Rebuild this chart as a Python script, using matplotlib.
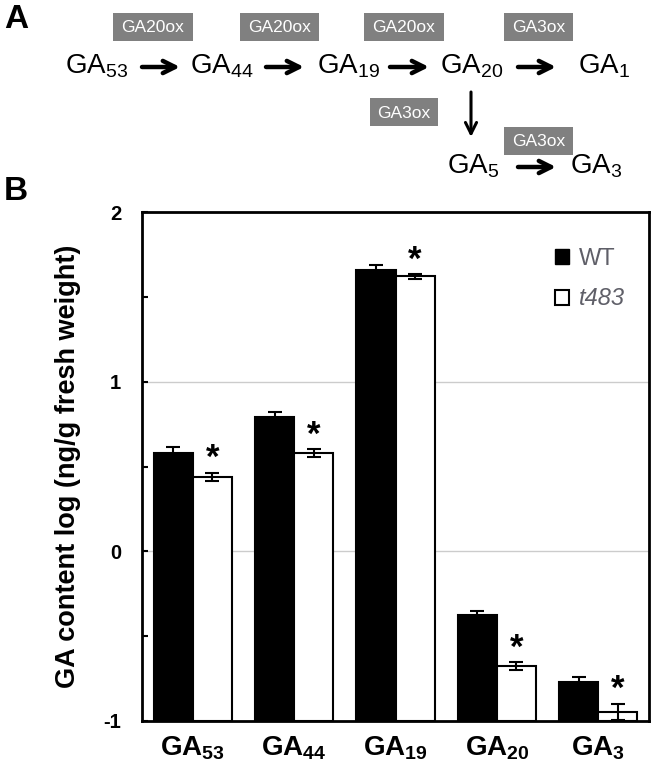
import matplotlib
matplotlib.use("Agg")
import matplotlib.pyplot as plt
from matplotlib.patches import Rectangle, Patch
from matplotlib.ticker import MultipleLocator
import numpy as np

plt.rcParams['font.family'] = ['Liberation Sans', 'DejaVu Sans']
plt.rcParams['mathtext.default'] = 'regular'
plt.rcParams['axes.unicode_minus'] = False

# chart data (log10 GA content, ng/g fresh weight)
genes = ['GA$_{53}$', 'GA$_{44}$', 'GA$_{19}$', 'GA$_{20}$', 'GA$_{3}$']
wt = [0.58, 0.79, 1.66, -0.375, -0.77]
wt_err = [0.035, 0.03, 0.025, 0.024, 0.03]
t483 = [0.44, 0.58, 1.62, -0.675, -0.945]
t483_err = [0.024, 0.024, 0.012, 0.024, 0.047]
signif = [True, True, True, True, True]

# pathway diagram (panel A)
row1 = ['GA$_{53}$', 'GA$_{44}$', 'GA$_{19}$', 'GA$_{20}$', 'GA$_{1}$']
row1_x = [65, 190, 317, 440, 578]
row1_enz = ['GA20ox', 'GA20ox', 'GA20ox', 'GA3ox']
row2 = ['GA$_{5}$', 'GA$_{3}$']
row2_x = [447, 570]

fig = plt.figure(figsize=(6.55, 7.66), dpi=100)

# overlay in pixel coords for the scheme
top = fig.add_axes([0, 0, 1, 1])
top.set_xlim(0, 655)
top.set_ylim(766, 0)
top.axis('off')
top.patch.set_visible(False)

top.text(4, 4, 'A', fontsize=24, fontweight='bold', va='top', ha='left')
top.text(4, 176, 'B', fontsize=24, fontweight='bold', va='top', ha='left')

def enz_box(x0, x1, y0, y1, name):
    top.add_patch(Rectangle((x0, y0), x1 - x0, y1 - y0, facecolor='#808080', edgecolor='none'))
    top.text((x0 + x1) / 2, (y0 + y1) / 2 + 1, name, color='white', fontsize=12.5,
             ha='center', va='center')

def harrow(x0, x1, y):
    top.annotate('', xy=(x1, y), xytext=(x0, y),
                 arrowprops=dict(arrowstyle='->', lw=3.2, color='black',
                                 mutation_scale=22, shrinkA=0, shrinkB=0))

for lab, x in zip(row1, row1_x):
    top.text(x, 74, lab, fontsize=20, ha='left', va='baseline')
box_x = [(113, 193), (240, 319), (364, 444), (504, 573)]
arr_x = [(142, 180), (266, 304), (390, 429), (518, 556)]
for (bx0, bx1), (ax0, ax1), name in zip(box_x, arr_x, row1_enz):
    enz_box(bx0, bx1, 13, 41, name)
    harrow(ax0, ax1, 67)

# branch GA20 -> GA5 -> GA3
top.annotate('', xy=(471, 137), xytext=(471, 92),
             arrowprops=dict(arrowstyle='->', lw=2.2, color='black',
                             mutation_scale=20, shrinkA=0, shrinkB=0))
enz_box(370, 438, 98, 126, 'GA3ox')
enz_box(504, 573, 127, 155, 'GA3ox')
for lab, x in zip(row2, row2_x):
    top.text(x, 174, lab, fontsize=20, ha='left', va='baseline')
harrow(518, 556, 167)

# bar chart (panel B)
ax = fig.add_axes([142 / 655, 45 / 766, 507 / 655, 509 / 766])
x = np.arange(len(genes))
w = 0.385
base = -1
ax.bar(x - w / 2, np.array(wt) - base, w, bottom=base, color='black',
       edgecolor='black', linewidth=1.5, zorder=2)
ax.bar(x + w / 2, np.array(t483) - base, w, bottom=base, color='white',
       edgecolor='black', linewidth=1.5, zorder=2)
ax.errorbar(x - w / 2, wt, yerr=wt_err, fmt='none', ecolor='black',
            elinewidth=1.5, capsize=5, capthick=1.5, zorder=3)
ax.errorbar(x + w / 2, t483, yerr=t483_err, fmt='none', ecolor='black',
            elinewidth=1.5, capsize=5, capthick=1.5, zorder=3)

for xi, v, e, s in zip(x, t483, t483_err, signif):
    if s:
        ax.annotate('*', (xi + w / 2, v + e), xytext=(0, 10), textcoords='offset points',
                    ha='center', va='center', fontsize=25, fontweight='bold')

ax.set_xlim(-0.5, 4.5)
ax.set_ylim(-1, 2)
ax.yaxis.set_major_locator(MultipleLocator(1))
ax.yaxis.set_minor_locator(MultipleLocator(0.5))
for y in [0, 1]:
    ax.axhline(y, color='#cccccc', lw=1, zorder=1)
ax.set_xticks(x)
ax.set_xticklabels(genes, fontsize=20, fontweight='bold')
ax.tick_params(axis='x', length=0, pad=10)
ax.tick_params(axis='y', which='both', direction='in', length=4, width=1.5,
               labelsize=14.5, pad=15)
for t in ax.get_yticklabels():
    t.set_fontweight('bold')
for sp in ax.spines.values():
    sp.set_linewidth(2)

ax.set_ylabel('GA content log (ng/g fresh weight)', fontsize=19.5, fontweight='bold', labelpad=16)

handles = [Patch(facecolor='black', edgecolor='black', label='WT'),
           Patch(facecolor='white', edgecolor='black', linewidth=1.5, label='t483')]
leg = ax.legend(handles=handles, loc='upper left', bbox_to_anchor=(0.815, 0.93),
                frameon=False, fontsize=17, handlelength=0.6, handleheight=0.6,
                handletextpad=0.4, labelspacing=0.75, borderpad=0, borderaxespad=0)
for t in leg.get_texts():
    t.set_color('#5f5f68')
leg.get_texts()[1].set_fontstyle('italic')

fig.savefig('out.png', dpi=100)
